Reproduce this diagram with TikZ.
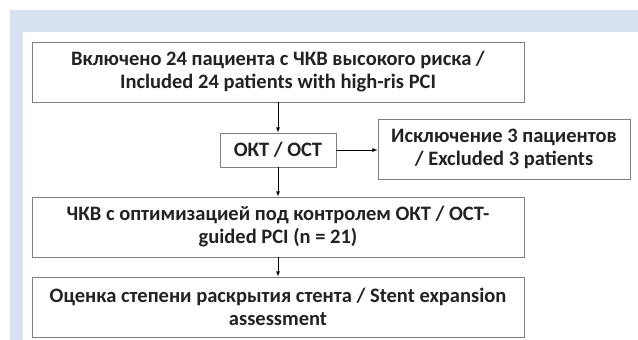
\documentclass[tikz,border=0pt]{standalone}
\usepackage{fontspec}
\setmainfont{Carlito}
\usetikzlibrary{positioning}
\definecolor{bandblue}{HTML}{D6E2F2}
\definecolor{boxgray}{HTML}{7F7F7F}
\definecolor{txtdark}{HTML}{222222}
\tikzset{
    stage/.style = {draw = boxgray, line width = 0.9pt, fill = white, align = center, inner sep = 0pt,
        font = \fontsize{20.5}{23}\selectfont\bfseries, text = txtdark},
    wide/.style = {stage, minimum width = 492, minimum height = 60},
    flow/.style = {line width = 0.8pt, -latex}
}
\begin{document}
\begin{tikzpicture}[x = 1pt, y = -1pt]
    \useasboundingbox (0,0) rectangle (638,340);
    \fill[bandblue] (10,10) rectangle (638,32);
    \fill[bandblue] (10,10) rectangle (23,340);
    \node[wide] (INC) at (278,72) {Включено 24 пациента с ЧКВ высокого риска /\\Included 24 patients with high-ris PCI};
    \node[stage, minimum width = 116, minimum height = 34] (OCT) at (278,150) {ОКТ / ОСТ};
    \node[stage, minimum width = 252, minimum height = 60] (EXC) at (504,149) {Исключение 3 пациентов\\/ Excluded 3 patients};
    \node[wide] (PCI) at (278,227) {ЧКВ с оптимизацией под контролем ОКТ / ОСТ-\\guided PCI (n = 21)};
    \node[wide] (EXP) at (278,307) {Оценка степени раскрытия стента / Stent expansion\\assessment};
    \draw[flow] (INC) -- (OCT);
    \draw[flow] (OCT.east) -- (OCT.east -| EXC.west);
    \draw[flow] (OCT) -- (PCI);
    \draw[flow] (PCI) -- (EXP);
\end{tikzpicture}
\end{document}
